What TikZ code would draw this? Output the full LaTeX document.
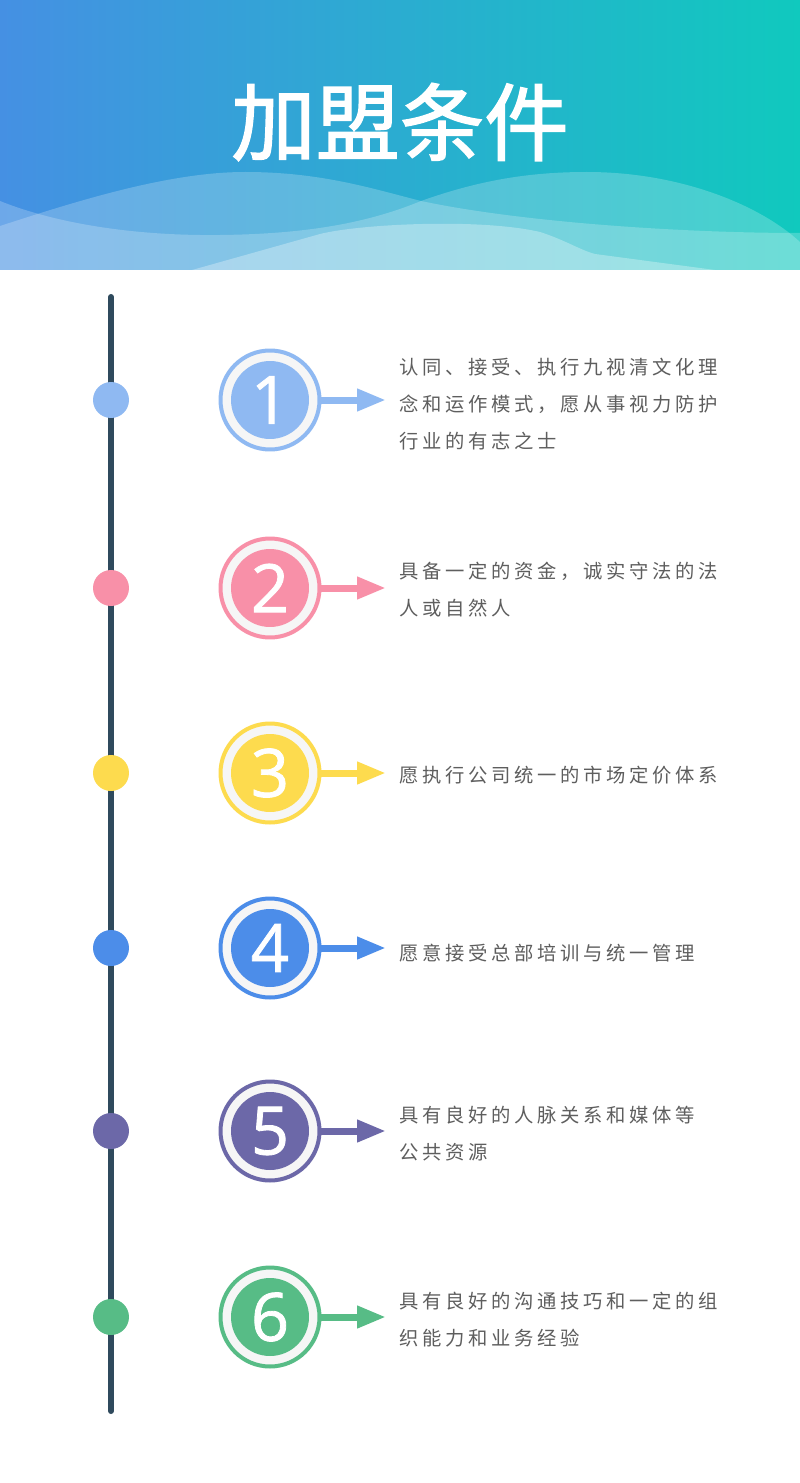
\documentclass[tikz,border=0pt]{standalone}
\usepackage{fontspec}
\newfontfamily\cjk[FakeBold=1.6]{Noto Sans CJK SC}
\newfontfamily\cjkspaced[LetterSpace=19]{Noto Sans CJK SC}
\newfontfamily\numfont[FakeBold=1.2]{Open Sans}
\usetikzlibrary{arrows.meta,positioning}
\definecolor{hdleft}{HTML}{4590E3}
\definecolor{hdright}{HTML}{10C9BE}
\definecolor{axiscol}{HTML}{2F4A5D}
\definecolor{cone}{HTML}{8FB9F2}
\definecolor{ctwo}{HTML}{F890A8}
\definecolor{cthree}{HTML}{FDDB4E}
\definecolor{cfour}{HTML}{4C8DE9}
\definecolor{cfive}{HTML}{6C68A8}
\definecolor{csix}{HTML}{57BC86}
\definecolor{ringfill}{HTML}{F6F6F6}
\definecolor{bodytext}{HTML}{5E5E5E}
\tikzset{
    tlbullet/.style={circle, minimum size=0.72cm, inner sep=0pt},
    numring/.style={circle, line width=0.08cm, fill=ringfill, minimum size=1.98cm, inner sep=0pt},
    numdisc/.style={circle, minimum size=1.56cm, inner sep=0pt, text=white, font=\numfont\fontsize{38}{38}\selectfont},
    pointer/.style={line width=0.14cm, -{Triangle[length=0.58cm,width=0.42cm]}},
    itemtext/.style={anchor=west, align=left, inner sep=0pt, text=bodytext, font=\cjkspaced\fontsize{11}{21}\selectfont},
    axisline/.style={line width=0.12cm, line cap=round, draw=axiscol},
    wave/.style={fill=white, fill opacity=0.22}
}

\begin{document}
\begin{tikzpicture}[x=0.02cm,y=-0.02cm]
    \fill[white] (0,0) rectangle (800,1483);
    \useasboundingbox (0,0) rectangle (800,1483);
    % header band
    \shade[left color=hdleft, right color=hdright] (0,0) rectangle (800,270);
    \begin{scope}
        \clip (0,0) rectangle (800,270);
        \fill[wave] (0,226) .. controls (80,200) and (170,172) .. (245,172)
            .. controls (320,172) and (370,188) .. (421,201)
            .. controls (520,222) and (680,233) .. (800,233) -- (800,270) -- (0,270) -- cycle;
        \fill[wave] (0,201) .. controls (60,225) and (140,236) .. (220,235)
            .. controls (310,234) and (370,222) .. (421,201)
            .. controls (480,180) and (530,172) .. (587,172)
            .. controls (680,172) and (760,205) .. (800,242) -- (800,270) -- (0,270) -- cycle;
        \fill[wave, fill opacity=0.3] (185,272) -- (320,234) .. controls (360,224) and (480,218) .. (540,232)
            .. controls (565,240) and (580,250) .. (595,254) -- (730,272) -- cycle;
    \end{scope}
    \node[font=\cjk\fontsize{48}{48}\selectfont, text=white] (title) at (400,122) {加盟条件};
    % timeline
    \coordinate (ltop) at (111,297);
    \coordinate (lbot) at (111,1411);
    \draw[axisline] (ltop) -- (lbot);
    % item 1
    \node[tlbullet, fill=cone] (d1) at (111,400) {};
    \node[numring, draw=cone] (r1) at (270,400) {};
    \node[numdisc, fill=cone] (n1) at (r1) {1};
    \coordinate (e1) at (386,400);
    \draw[pointer, cone] (r1) -- (e1);
    \node[itemtext] (t1) at (399,404) {认同、接受、执行九视清文化理\\念和运作模式，愿从事视力防护\\行业的有志之士};
    % item 2
    \node[tlbullet, fill=ctwo] (d2) at (111,588) {};
    \node[numring, draw=ctwo] (r2) at (270,588) {};
    \node[numdisc, fill=ctwo] (n2) at (r2) {2};
    \coordinate (e2) at (386,588);
    \draw[pointer, ctwo] (r2) -- (e2);
    \node[itemtext] (t2) at (399,590) {具备一定的资金，诚实守法的法\\人或自然人};
    % item 3
    \node[tlbullet, fill=cthree] (d3) at (111,773) {};
    \node[numring, draw=cthree] (r3) at (270,773) {};
    \node[numdisc, fill=cthree] (n3) at (r3) {3};
    \coordinate (e3) at (386,773);
    \draw[pointer, cthree] (r3) -- (e3);
    \node[itemtext] (t3) at (399,775) {愿执行公司统一的市场定价体系};
    % item 4
    \node[tlbullet, fill=cfour] (d4) at (111,948) {};
    \node[numring, draw=cfour] (r4) at (270,948) {};
    \node[numdisc, fill=cfour] (n4) at (r4) {4};
    \coordinate (e4) at (386,948);
    \draw[pointer, cfour] (r4) -- (e4);
    \node[itemtext] (t4) at (399,953) {愿意接受总部培训与统一管理};
    % item 5
    \node[tlbullet, fill=cfive] (d5) at (111,1131) {};
    \node[numring, draw=cfive] (r5) at (270,1131) {};
    \node[numdisc, fill=cfive] (n5) at (r5) {5};
    \coordinate (e5) at (386,1131);
    \draw[pointer, cfive] (r5) -- (e5);
    \node[itemtext] (t5) at (399,1134) {具有良好的人脉关系和媒体等\\公共资源};
    % item 6
    \node[tlbullet, fill=csix] (d6) at (111,1317) {};
    \node[numring, draw=csix] (r6) at (270,1317) {};
    \node[numdisc, fill=csix] (n6) at (r6) {6};
    \coordinate (e6) at (386,1317);
    \draw[pointer, csix] (r6) -- (e6);
    \node[itemtext] (t6) at (399,1320) {具有良好的沟通技巧和一定的组\\织能力和业务经验};
\end{tikzpicture}
\end{document}
